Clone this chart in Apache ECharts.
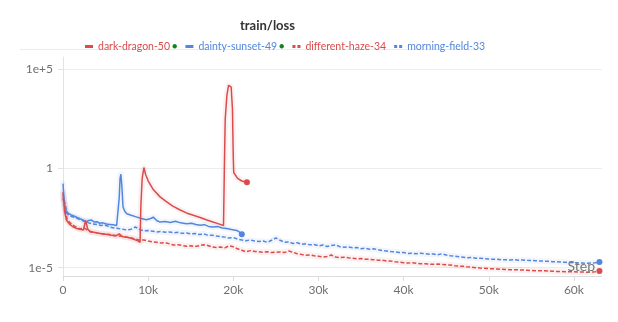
<!DOCTYPE html>
<html>
<head>
<meta charset="utf-8">
<script src="https://cdn.jsdelivr.net/npm/echarts@6/dist/echarts.min.js"></script>
<style>
  html, body { margin: 0; padding: 0; background: #fff; }
  #chart { width: 618px; height: 322px; }
</style>
</head>
<body>
<div id="chart"></div>
<script>
// Run names and colours
const runNames = ['dark-dragon-50', 'dainty-sunset-49', 'different-haze-34', 'morning-field-33'];
const runColors = ['#da4c4c', '#5387dd', '#da4c4c', '#5387dd'];
const runFinished = [true, true, false, false]; // green state dot after the name

// Axis ticks
const xTickValues = [0, 10000, 20000, 30000, 40000, 50000, 60000];
const xTickLabels = ['0', '10k', '20k', '30k', '40k', '50k', '60k'];
const yTickValues = [1e-5, 1, 1e5];
const yTickLabels = ['1e-5', '1', '1e+5'];

// Loss values are stored as powers of ten (log10 of the loss).
// dark-dragon-50: [step, log10 loss]
const darkDragon = [
  [0,-1.2],[200,-2.2],[400,-2.6],[800,-2.82],[1200,-2.95],[1600,-3.02],[2000,-3.06],[2400,-3.1],
  [2650,-2.62],[2900,-3.05],[3200,-3.2],[3700,-3.22],[4200,-3.27],[4700,-3.3],[5200,-3.33],
  [5700,-3.37],[6200,-3.4],[6600,-3.3],[7000,-3.44],[7500,-3.47],[8000,-3.52],[8500,-3.6],
  [8800,-3.65],[9050,-3.72],[9150,-1.8],[9300,-0.5],[9500,0.05],[9700,-0.3],[10000,-0.62],
  [10600,-1.06],[11400,-1.43],[12100,-1.66],[12900,-1.9],[13700,-2.08],[14500,-2.24],
  [15300,-2.36],[16100,-2.47],[16900,-2.6],[17600,-2.7],[18200,-2.78],[18850,-2.87],
  [18950,0.0],[19050,2.5],[19250,3.7],[19450,4.2],[19600,4.29],[19750,4.1],[19900,3.0],
  [20000,0.5],[20050,-0.2],[20100,-0.28],[20500,-0.5],[21000,-0.63],[21600,-0.69]
];
// dainty-sunset-49: [step, log10 loss]
const daintySunset = [
  [0,-0.76],[150,-1.7],[300,-2.11],[600,-2.25],[900,-2.33],[1200,-2.38],[1600,-2.46],[2000,-2.53],
  [2400,-2.6],[2750,-2.7],[3000,-2.62],[3350,-2.6],[3700,-2.7],[4000,-2.68],[4300,-2.76],
  [4700,-2.74],[5100,-2.8],[5500,-2.82],[5900,-2.84],[6300,-2.87],[6500,-2.8],[6600,-1.5],
  [6700,-0.5],[6800,-0.29],[6900,-0.8],[7050,-1.94],[7250,-2.15],[7500,-2.28],[8000,-2.36],
  [8600,-2.44],[9200,-2.52],[9800,-2.58],[10300,-2.52],[10600,-2.45],[11000,-2.62],[11400,-2.7],
  [12000,-2.67],[12600,-2.72],[13200,-2.66],[13800,-2.74],[14500,-2.78],[15100,-2.76],
  [15600,-2.82],[16100,-2.86],[16600,-2.83],[17100,-2.92],[17600,-2.95],[18200,-2.93],
  [18700,-3.0],[19200,-3.03],[19800,-3.08],[20400,-3.12],[20700,-3.2],[21000,-3.32]
];

// The two longer runs were logged every 500 steps, starting at step 0.
const logEvery = 500;
// different-haze-34: log10 loss
const differentHaze = [
  -1.5,-2.6,-2.8,-2.95,-3.05,-3.0,-3.15,-3.2,-3.25,-3.28,
  -3.3,-3.33,-3.36,-3.4,-3.42,-3.46,-3.5,-3.55,-3.62,-3.6,
  -3.66,-3.7,-3.72,-3.76,-3.74,-3.8,-3.86,-3.84,-3.88,-3.92,
  -3.9,-3.93,-3.9,-3.84,-3.88,-3.96,-3.98,-3.96,-4.0,-3.9,
  -3.95,-4.05,-4.12,-4.2,-4.14,-4.18,-4.2,-4.22,-4.2,-4.24,
  -4.22,-4.21,-4.24,-4.16,-4.22,-4.3,-4.33,-4.38,-4.36,-4.4,
  -4.42,-4.46,-4.44,-4.36,-4.46,-4.49,-4.47,-4.5,-4.52,-4.55,
  -4.54,-4.57,-4.58,-4.6,-4.62,-4.63,-4.66,-4.67,-4.7,-4.72,
  -4.75,-4.77,-4.75,-4.78,-4.8,-4.8,-4.82,-4.83,-4.82,-4.84,
  -4.85,-4.87,-4.9,-4.92,-4.93,-4.96,-4.98,-5.0,-5.02,-5.03,
  -5.05,-5.06,-5.07,-5.08,-5.09,-5.1,-5.1,-5.11,-5.12,-5.13,
  -5.14,-5.15,-5.16,-5.16,-5.17,-5.18,-5.19,-5.19,-5.2,-5.21,
  -5.21,-5.22,-5.22,-5.23,-5.22,-5.2,-5.17
];
// morning-field-33: log10 loss
const morningField = [
  -1.3,-2.3,-2.42,-2.47,-2.58,-2.66,-2.74,-2.8,-2.83,-2.87,
  -2.86,-2.95,-3.0,-3.03,-3.06,-3.1,-3.06,-2.95,-3.08,-3.14,
  -3.13,-3.16,-3.2,-3.17,-3.21,-3.2,-3.24,-3.22,-3.27,-3.25,
  -3.3,-3.28,-3.33,-3.3,-3.36,-3.37,-3.4,-3.43,-3.46,-3.5,
  -3.48,-3.56,-3.6,-3.64,-3.6,-3.66,-3.68,-3.66,-3.72,-3.62,
  -3.5,-3.62,-3.72,-3.7,-3.78,-3.74,-3.82,-3.8,-3.85,-3.83,
  -3.9,-3.86,-3.93,-3.88,-3.85,-3.94,-3.97,-3.95,-4.0,-3.98,
  -4.04,-4.02,-4.07,-4.05,-4.1,-4.14,-4.16,-4.19,-4.2,-4.23,
  -4.24,-4.28,-4.27,-4.3,-4.27,-4.3,-4.32,-4.31,-4.35,-4.3,
  -4.36,-4.4,-4.42,-4.45,-4.47,-4.5,-4.49,-4.52,-4.53,-4.55,
  -4.56,-4.58,-4.57,-4.6,-4.6,-4.61,-4.6,-4.62,-4.61,-4.63,
  -4.64,-4.65,-4.66,-4.67,-4.68,-4.7,-4.7,-4.72,-4.73,-4.74,
  -4.75,-4.76,-4.77,-4.78,-4.77,-4.75,-4.72
];

const xMax = 63300;
const yMin = 3.8e-6;
const yMax = 4.2e5;

const FONT = 'Lato';

// [step, log10] pairs -> [step, loss]; the last point carries the end dot
function toPoints(pairs) {
  return pairs.map((p, i) => {
    const item = { value: [p[0], Math.pow(10, p[1])] };
    if (i === pairs.length - 1) {
      item.symbol = 'circle';
      item.symbolSize = 6;
    }
    return item;
  });
}
function regularPairs(values) {
  return values.map((v, i) => [i * logEvery, v]);
}

const runPairs = [darkDragon, daintySunset, regularPairs(differentHaze), regularPairs(morningField)];

const series = [];
// soft band under each run
runPairs.forEach((pairs, k) => {
  series.push({
    name: runNames[k],
    type: 'line',
    data: pairs.map(p => [p[0], Math.pow(10, p[1])]),
    showSymbol: false,
    symbol: 'none',
    silent: true,
    z: 1,
    lineStyle: { color: runColors[k], width: 6, opacity: 0.08, cap: 'round', join: 'round' },
    itemStyle: { color: runColors[k] },
    animation: false
  });
});
// the runs
runPairs.forEach((pairs, k) => {
  series.push({
    name: runNames[k],
    type: 'line',
    data: toPoints(pairs),
    symbol: 'none',
    showSymbol: true,
    z: 3 + (3 - k),
    lineStyle: {
      color: runColors[k],
      width: 1.5,
      type: k >= 2 ? [4, 2] : 'solid'
    },
    itemStyle: { color: runColors[k] },
    animation: false
  });
});

const solidIcon = 'path://M0,0h8v3h-8z';
const dashIcon = 'path://M0,0h3v3h-3z M5,0h3v3h-3z';

const chart = echarts.init(document.getElementById('chart'), null, { renderer: 'canvas' });
chart.setOption({
  animation: false,
  backgroundColor: '#fff',
  title: {
    text: 'train/loss',
    left: 235,
    top: 14,
    textStyle: { fontFamily: FONT, fontSize: 13, fontWeight: 'bold', color: '#333' }
  },
  legend: {
    left: 80,
    top: 36,
    itemWidth: 8,
    itemHeight: 3,
    itemGap: 8,
    selectedMode: false,
    data: runNames.map((n, k) => ({
      name: n,
      icon: k >= 2 ? dashIcon : solidIcon,
      textStyle: { color: runColors[k] }
    })),
    formatter: name => runFinished[runNames.indexOf(name)] ? name + '{g|●}' : name,
    textStyle: {
      fontFamily: FONT,
      fontSize: 10.5,
      padding: [0, 0, 0, 0],
      rich: { g: { color: '#16821f', fontSize: 9, padding: [0, 0, 0, 2] } }
    }
  },
  graphic: [{
    type: 'line',
    shape: { x1: 20, y1: 49.5, x2: 475, y2: 49.5 },
    style: { stroke: '#ececec', lineWidth: 1 },
    silent: true
  }],
  grid: { left: 63, right: 16, top: 57, bottom: 46, containLabel: false },
  xAxis: {
    type: 'value',
    min: 0,
    max: xMax,
    interval: 10000,
    z: 10,
    name: 'Step',
    nameLocation: 'end',
    nameGap: -7,
    nameTextStyle: {
      fontFamily: FONT, fontSize: 14, color: '#777',
      align: 'right', verticalAlign: 'bottom', padding: [0, 0, 3, 0]
    },
    axisLine: { show: true, lineStyle: { color: '#dcdcdc', width: 1 } },
    axisTick: { show: true, length: 5, lineStyle: { color: '#dcdcdc' }, customValues: xTickValues },
    axisLabel: {
      customValues: xTickValues,
      formatter: v => xTickLabels[xTickValues.indexOf(Math.round(v))] ?? '',
      fontFamily: FONT, fontSize: 12, color: '#6f6f6f', margin: 8
    },
    splitLine: { show: false }
  },
  yAxis: {
    type: 'log',
    logBase: 10,
    min: yMin,
    max: yMax,
    axisLine: { show: true, lineStyle: { color: '#e3e3e3', width: 1 } },
    axisTick: { show: true, length: 5, lineStyle: { color: '#e3e3e3' }, customValues: yTickValues },
    axisLabel: {
      customValues: yTickValues,
      formatter: v => {
        const e = Math.round(Math.log10(v));
        const idx = yTickValues.findIndex(t => Math.round(Math.log10(t)) === e);
        return idx >= 0 ? yTickLabels[idx] : '';
      },
      fontFamily: FONT, fontSize: 12, color: '#6f6f6f', margin: 10
    },
    splitLine: { show: true, lineStyle: { color: '#ededed', width: 1 } }
  },
  series
});
</script>
</body>
</html>
